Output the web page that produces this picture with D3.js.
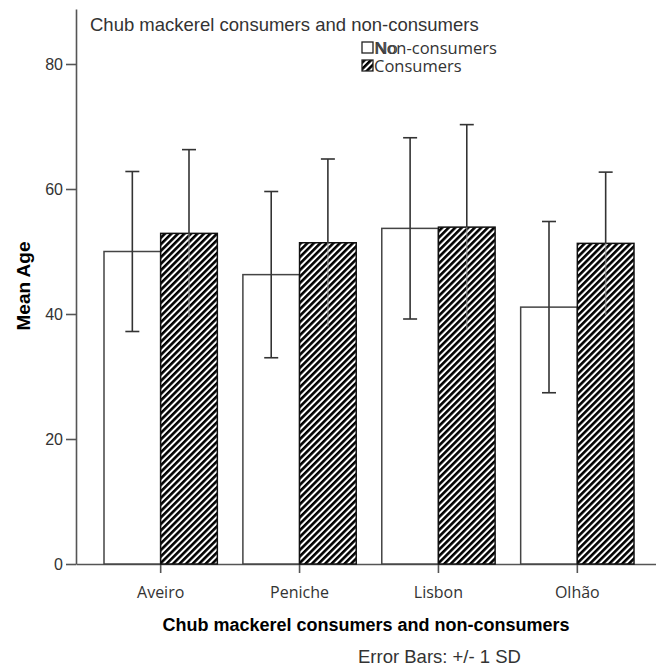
<!DOCTYPE html>
<html>
<head>
<meta charset="utf-8">
<script src="https://cdn.jsdelivr.net/npm/d3@7"></script>
<style>
  html, body { margin: 0; padding: 0; background: #fff; }
  svg { display: block; }
</style>
</head>
<body>
<svg id="chart" width="656" height="669"></svg>
<script>
// Mean age by site, split by chub mackerel consumption
const sites = ["Aveiro", "Peniche", "Lisbon", "Olhão"];
const groups = ["Non-consumers", "Consumers"];
const nonConsumerMean = [50.0, 46.3, 53.7, 41.1];
const nonConsumerSD   = [12.8, 13.3, 14.5, 13.7];
const consumerMean    = [52.9, 51.4, 53.9, 51.3];
const consumerSD      = [13.4, 13.4, 16.4, 11.4];
const yTicks = [0, 20, 40, 60, 80];

const rows = sites.map((s, i) => ({
  site: s,
  values: [
    { group: groups[0], mean: nonConsumerMean[i], sd: nonConsumerSD[i] },
    { group: groups[1], mean: consumerMean[i], sd: consumerSD[i] }
  ]
}));

const svg = d3.select("#chart");
const axisColor = "#555";
const textColor = "#333";

// hatch fill for consumers
const defs = svg.append("defs");
const pat = defs.append("pattern")
  .attr("id", "hatch")
  .attr("patternUnits", "userSpaceOnUse")
  .attr("width", 4.6).attr("height", 4.6)
  .attr("patternTransform", "rotate(45)");
pat.append("rect").attr("width", 4.6).attr("height", 4.6).attr("fill", "#fff");
pat.append("rect").attr("width", 2.6).attr("height", 4.6).attr("fill", "#000");

const x0 = d3.scaleBand().domain(sites).range([76, 656])
  .paddingInner(0.184).paddingOuter(0.18).align(0.56);
const x1 = d3.scaleBand().domain(groups).range([0, x0.bandwidth()]);
const y = d3.scaleLinear().domain([0, 88.8]).range([564, 9]);

// y axis
const yAxis = svg.append("g").attr("transform", "translate(76,0)")
  .call(d3.axisLeft(y).tickValues(yTicks).tickSize(10).tickSizeOuter(0).tickPadding(3));
yAxis.selectAll("path, line").attr("stroke", axisColor).attr("stroke-width", 1.6);
yAxis.selectAll("text").attr("fill", textColor)
  .style("font-family", "'Liberation Sans', Arial, sans-serif").style("font-size", "16px");

// x axis
const xAxis = svg.append("g").attr("transform", "translate(0,564)")
  .call(d3.axisBottom(x0).tickSize(9).tickSizeOuter(0).tickPadding(14));
xAxis.selectAll("path, line").attr("stroke", axisColor).attr("stroke-width", 1.6);
xAxis.selectAll("text").attr("fill", textColor)
  .style("font-family", "'Open Sans', sans-serif").style("font-size", "16px");

// bars
const g = svg.append("g").selectAll("g").data(rows).join("g")
  .attr("transform", d => `translate(${x0(d.site)},0)`);

g.selectAll("rect").data(d => d.values).join("rect")
  .attr("x", d => x1(d.group))
  .attr("y", d => y(d.mean))
  .attr("width", x1.bandwidth())
  .attr("height", d => y(0) - y(d.mean))
  .attr("fill", d => d.group === groups[0] ? "#fff" : "url(#hatch)")
  .attr("stroke", d => d.group === groups[0] ? "#444" : "#111")
  .attr("stroke-width", 1.5);

// error bars (+/- 1 SD)
const cap = 7;
const eb = g.selectAll("g.err").data(d => d.values).join("g").attr("class", "err");
eb.each(function(d) {
  const sel = d3.select(this);
  const cx = x1(d.group) + x1.bandwidth() / 2;
  const hatched = d.group === groups[1];
  // upper whisker
  sel.append("line").attr("x1", cx).attr("x2", cx)
    .attr("y1", y(d.mean)).attr("y2", y(d.mean + d.sd))
    .attr("stroke", "#333").attr("stroke-width", 1.6);
  sel.append("line").attr("x1", cx - cap).attr("x2", cx + cap)
    .attr("y1", y(d.mean + d.sd)).attr("y2", y(d.mean + d.sd))
    .attr("stroke", "#333").attr("stroke-width", 1.6);
  // lower whisker
  sel.append("line").attr("x1", cx).attr("x2", cx)
    .attr("y1", y(d.mean)).attr("y2", y(d.mean - d.sd))
    .attr("stroke", hatched ? "#999" : "#333")
    .attr("stroke-opacity", hatched ? 0.6 : 1)
    .attr("stroke-width", 1.6);
  if (!hatched) {
    sel.append("line").attr("x1", cx - cap).attr("x2", cx + cap)
      .attr("y1", y(d.mean - d.sd)).attr("y2", y(d.mean - d.sd))
      .attr("stroke", "#333").attr("stroke-width", 1.6);
  }
});

// chart title inside the plot
svg.append("text").attr("x", 90).attr("y", 31)
  .attr("fill", textColor)
  .style("font-family", "'Liberation Sans', Arial, sans-serif").style("font-size", "18.5px")
  .text("Chub mackerel consumers and non-consumers");

// legend
const legend = svg.append("g");
const legendRows = [
  { label: groups[0], fill: "#fff", y: 42 },
  { label: groups[1], fill: "url(#hatch)", y: 60 }
];
legendRows.forEach(r => {
  legend.append("rect").attr("x", 362).attr("y", r.y).attr("width", 11).attr("height", 11)
    .attr("fill", r.fill).attr("stroke", "#222").attr("stroke-width", 1.3);
  legend.append("text").attr("x", 374).attr("y", r.y + 11.5)
    .attr("fill", textColor)
    .style("font-family", "'Open Sans', sans-serif").style("font-size", "16.5px")
    .text(r.label);
});
legend.append("text").attr("x", 375).attr("y", 54)
  .attr("fill", "#444")
  .style("font-family", "'Open Sans', sans-serif").style("font-size", "17px")
  .text("No");

// axis titles
svg.append("text").attr("x", (76 + 656) / 2).attr("y", 631)
  .attr("text-anchor", "middle").attr("fill", "#000")
  .style("font-family", "'Liberation Sans', Arial, sans-serif").style("font-size", "18px")
  .style("font-weight", "bold")
  .text("Chub mackerel consumers and non-consumers");

svg.append("text").attr("transform", "translate(30,286) rotate(-90)")
  .attr("text-anchor", "middle").attr("fill", "#000")
  .style("font-family", "'Liberation Sans', Arial, sans-serif").style("font-size", "19px")
  .style("font-weight", "bold")
  .text("Mean Age");

svg.append("text").attr("x", 358).attr("y", 663)
  .attr("fill", textColor)
  .style("font-family", "'Liberation Sans', Arial, sans-serif").style("font-size", "18.5px")
  .text("Error Bars: +/- 1 SD");
</script>
</body>
</html>
